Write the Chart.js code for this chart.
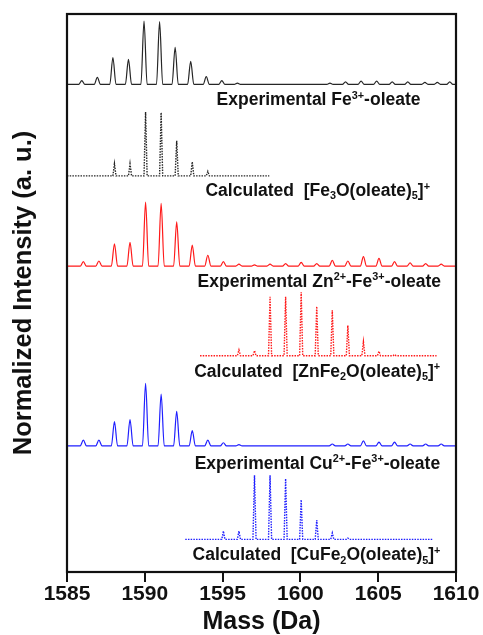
<!DOCTYPE html>
<html>
<head>
<meta charset="utf-8">
<script src="https://cdn.jsdelivr.net/npm/chart.js"></script>
<style>
  html, body { margin: 0; padding: 0; background: #fff; }
  canvas { display: block; }
</style>
</head>
<body>
<canvas id="spectra" width="483" height="635"></canvas>
<script>
// x axis ticks (Da)
const xTicks = [1585, 1590, 1595, 1600, 1605, 1610];

// Experimental Fe3+-oleate: peak mass / relative intensity (%)
const expFeMass = [1585.95, 1586.95, 1587.95, 1588.95, 1589.95, 1590.95, 1591.95, 1592.95, 1593.95, 1594.95,
                   1595.95, 1601.9, 1602.9, 1603.9, 1604.9, 1605.9, 1606.9, 1608.0, 1608.8, 1609.6];
const expFeInt  = [6, 11, 42, 39, 99, 98, 58, 36, 12, 6,
                   2, 2, 4, 5, 5, 4, 4, 3, 3, 4];

// Calculated [Fe3O(oleate)5]+
const calcFeMass = [1588.05, 1589.05, 1590.05, 1591.05, 1592.05, 1593.05, 1594.05];
const calcFeInt  = [19, 19, 100, 99, 55, 22, 7];
const calcFeSpan = [1585, 1598];

// Experimental Zn2+-Fe3+-oleate
const expZnMass = [1586.05, 1587.05, 1588.05, 1589.05, 1590.05, 1591.05, 1592.05, 1593.05, 1594.05, 1595.05,
                   1596.05, 1597.05, 1598.05, 1599.05, 1600.05, 1601.05, 1602.05, 1603.05, 1604.05, 1605.05,
                   1606.05, 1607.05, 1608.05, 1609.05];
const expZnInt  = [7, 8, 35, 37, 100, 98, 69, 33, 17, 7,
                   3, 2, 3, 4, 6, 4, 9, 8, 15, 12,
                   7, 5, 4, 3];

// Calculated [ZnFe2O(oleate)5]+
const calcZnMass = [1596.05, 1597.05, 1598.05, 1599.05, 1600.05, 1601.05, 1602.05, 1603.05, 1604.05, 1605.05, 1606.05];
const calcZnInt  = [9, 8, 92, 92, 99, 77, 71, 47, 22, 7, 2];
const calcZnSpan = [1593.55, 1608.75];

// Experimental Cu2+-Fe3+-oleate
const expCuMass = [1586.05, 1587.05, 1588.05, 1589.05, 1590.05, 1591.05, 1592.05, 1593.05, 1594.05, 1595.05,
                   1596.05, 1602.05, 1603.05, 1604.05, 1605.05, 1606.05, 1607.05, 1608.05, 1609.05];
const expCuInt  = [9, 9, 38, 41, 98, 81, 54, 24, 9, 5,
                   2, 3, 3, 8, 6, 6, 3, 3, 3];

// Calculated [CuFe2O(oleate)5]+
const calcCuMass = [1595.05, 1596.05, 1597.05, 1598.05, 1599.05, 1600.05, 1601.05, 1602.05, 1603.05];
const calcCuInt  = [13, 13, 100, 100, 95, 62, 30, 10, 2];
const calcCuSpan = [1592.6, 1608.5];

// vertical stacking offsets of each trace (same units as intensity)
const stackOffsets = [762, 619, 478, 338, 197, 51];

// trace captions: [text, 'n' | 'sup' | 'sub']
const traceLabels = [
    [['Experimental Fe', 'n'], ['3+', 'sup'], ['-oleate', 'n']],
    [['Calculated  [Fe', 'n'], ['3', 'sub'], ['O(oleate)', 'n'], ['5', 'sub'], [']', 'n'], ['+', 'sup']],
    [['Experimental Zn', 'n'], ['2+', 'sup'], ['-Fe', 'n'], ['3+', 'sup'], ['-oleate', 'n']],
    [['Calculated  [ZnFe', 'n'], ['2', 'sub'], ['O(oleate)', 'n'], ['5', 'sub'], [']', 'n'], ['+', 'sup']],
    [['Experimental Cu', 'n'], ['2+', 'sup'], ['-Fe', 'n'], ['3+', 'sup'], ['-oleate', 'n']],
    [['Calculated  [CuFe', 'n'], ['2', 'sub'], ['O(oleate)', 'n'], ['5', 'sub'], [']', 'n'], ['+', 'sup']]
];

// caption anchors: right edge (Da), vertical centre (y units)
const labelAnchors = [[1607.72, 739], [1608.33, 597], [1609.04, 455], [1608.98, 315], [1608.98, 171], [1609.0, 28]];

const FONT = '"Liberation Sans", Arial, sans-serif';
const BLACK = '#262626';
const RED = '#ff1a1a';
const BLUE = '#1f1fff';

// stick peaks -> line points (foot, apex, foot)
function buildTrace(mass, inten, offset, span, halfWidth) {
    const pts = [{ x: span[0], y: offset }];
    for (let i = 0; i < mass.length; i++) {
        pts.push({ x: mass[i] - halfWidth, y: offset });
        pts.push({ x: mass[i], y: offset + inten[i] });
        pts.push({ x: mass[i] + halfWidth, y: offset });
    }
    pts.push({ x: span[1], y: offset });
    return pts;
}

const fullSpan = [1585, 1610];
const expStyle = { borderWidth: 1.2, cubicInterpolationMode: 'monotone' };
const calcStyle = { borderWidth: 1.4, borderDash: [1.5, 1.2] };
const datasets = [
    { data: buildTrace(expFeMass, expFeInt, stackOffsets[0], fullSpan, 0.2), borderColor: BLACK, ...expStyle },
    { data: buildTrace(calcFeMass, calcFeInt, stackOffsets[1], calcFeSpan, 0.1), borderColor: BLACK, ...calcStyle },
    { data: buildTrace(expZnMass, expZnInt, stackOffsets[2], fullSpan, 0.2), borderColor: RED, ...expStyle },
    { data: buildTrace(calcZnMass, calcZnInt, stackOffsets[3], calcZnSpan, 0.1), borderColor: RED, ...calcStyle },
    { data: buildTrace(expCuMass, expCuInt, stackOffsets[4], fullSpan, 0.2), borderColor: BLUE, ...expStyle },
    { data: buildTrace(calcCuMass, calcCuInt, stackOffsets[5], calcCuSpan, 0.1), borderColor: BLUE, ...calcStyle }
];
datasets.forEach(d => {
    d.showLine = true;
    d.pointRadius = 0;
    d.fill = false;
});

function drawRich(ctx, parts, rightX, midY, size) {
    const small = size * 0.62;
    const fontFor = k => 'bold ' + (k === 'n' ? size : small) + 'px ' + FONT;
    let width = 0;
    parts.forEach(([t, k]) => { ctx.font = fontFor(k); width += ctx.measureText(t).width; });
    let x = rightX - width;
    const base = midY + size * 0.36;
    ctx.textAlign = 'left';
    ctx.textBaseline = 'alphabetic';
    parts.forEach(([t, k]) => {
        ctx.font = fontFor(k);
        let y = base;
        if (k === 'sup') y = base - size * 0.38;
        if (k === 'sub') y = base + size * 0.18;
        ctx.fillText(t, x, y);
        x += ctx.measureText(t).width;
    });
}

const framePlugin = {
    id: 'frameAndLabels',
    afterDatasetsDraw(chart) {
        const { ctx, chartArea: a, scales } = chart;
        ctx.save();
        ctx.fillStyle = '#111';
        traceLabels.forEach((parts, i) => {
            const [m, yv] = labelAnchors[i];
            drawRich(ctx, parts, scales.x.getPixelForValue(m), scales.y.getPixelForValue(yv), 17.5);
        });
        ctx.strokeStyle = '#111';
        ctx.lineWidth = 2.2;
        ctx.strokeRect(a.left, a.top, a.right - a.left, a.bottom - a.top);
        ctx.restore();
    }
};

new Chart(document.getElementById('spectra'), {
    type: 'scatter',
    data: { datasets },
    options: {
        responsive: false,
        animation: false,
        layout: { padding: { top: 14, right: 27, left: 0, bottom: 0 } },
        plugins: { legend: { display: false }, tooltip: { enabled: false } },
        scales: {
            x: {
                type: 'linear',
                min: 1585,
                max: 1610,
                afterBuildTicks: s => { s.ticks = xTicks.map(v => ({ value: v })); },
                afterFit: s => { s.height = 63; },
                ticks: {
                    callback: v => String(v),
                    color: '#111',
                    padding: 0,
                    maxRotation: 0,
                    font: { family: FONT, size: 21, weight: 'bold', lineHeight: 1.2 }
                },
                grid: { display: true, drawOnChartArea: false, color: '#111', lineWidth: 2, tickLength: 10 },
                border: { display: false },
                title: {
                    display: true,
                    text: 'Mass (Da)',
                    color: '#111',
                    padding: { top: 0, bottom: 0 },
                    font: { family: FONT, size: 25, weight: 'bold', lineHeight: 1 }
                }
            },
            y: {
                min: 0,
                max: 872,
                afterFit: s => { s.width = 67; },
                ticks: { display: false },
                grid: { display: false },
                border: { display: false },
                title: {
                    display: true,
                    text: 'Normalized Intensity (a. u.)',
                    color: '#111',
                    padding: { top: 11, bottom: 0 },
                    font: { family: FONT, size: 25.5, weight: 'bold', lineHeight: 1 }
                }
            }
        }
    },
    plugins: [framePlugin]
});
</script>
</body>
</html>
